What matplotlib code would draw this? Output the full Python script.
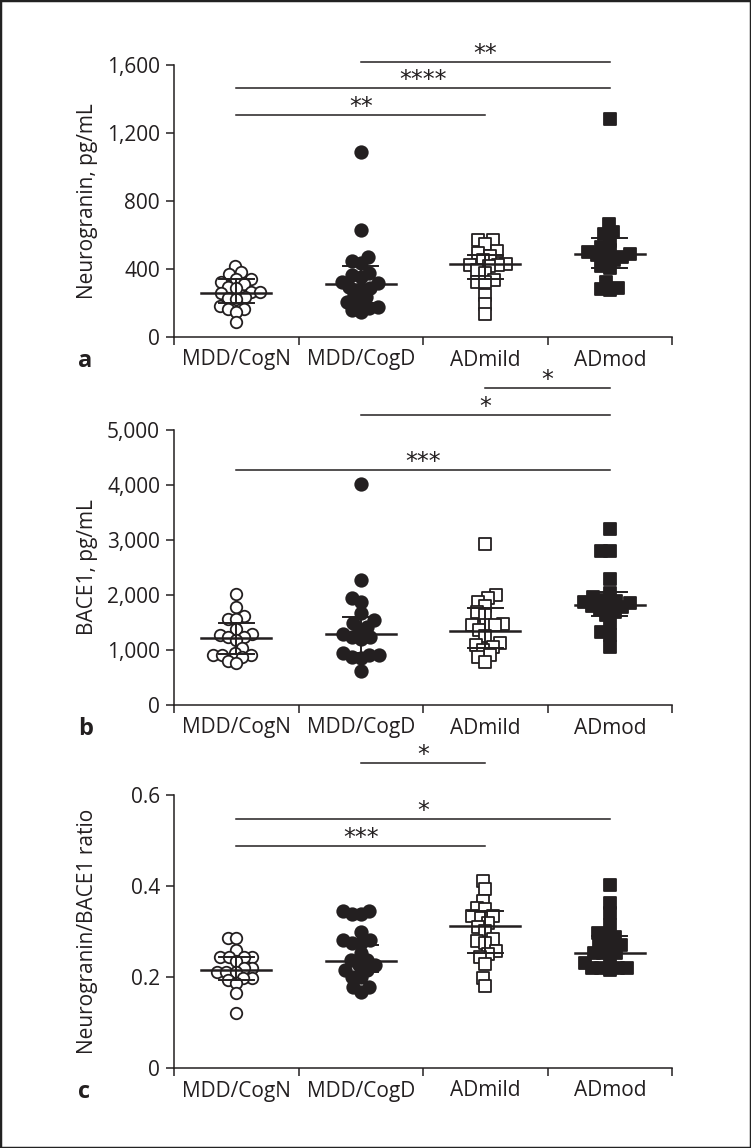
#!/usr/bin/env python3
"""
Three stacked scatter (dot) plots: Neurogranin, BACE1 and their ratio
across four diagnostic groups, median line with interquartile bars,
plus significance brackets. Saved to out.png (751x1148).
"""

import numpy as np
import matplotlib

matplotlib.use("Agg")
import matplotlib.pyplot as plt
from matplotlib.patches import Rectangle

plt.rcParams["font.family"] = ["Open Sans", "DejaVu Sans"]

groups = ["MDD/CogN", "MDD/CogD", "ADmild", "ADmod"]

# Panel a: Neurogranin, pg/mL
a_cogn = [418, 382, 371, 341, 341, 324, 310, 294, 288, 265, 265, 259, 235, 229, 224, 182, 165, 165, 147, 88]
a_cogd = [1088, 629, 470, 445, 435, 376, 365, 353, 324, 320, 294, 288, 282, 247, 235, 206, 200, 176, 171, 159, 147]
a_mild = [571, 571, 547, 506, 494, 476, 453, 430, 424, 424, 420, 394, 376, 335, 324, 324, 247, 194, 135]
a_mod = [1282, 665, 618, 606, 565, 529, 510, 500, 490, 482, 470, 465, 453, 418, 406, 324, 288, 282, 276]
a_median = [261, 312, 429, 488]
a_low = [200, 200, 341, 406]
a_high = [341, 418, 482, 580]
a_ticks = [0, 400, 800, 1200, 1600]
a_sig = [(1, 3, 1618, "**"), (0, 3, 1465, "****"), (0, 2, 1306, "**")]

# Panel b: BACE1, pg/mL
b_cogn = [2018, 1782, 1618, 1564, 1564, 1382, 1291, 1270, 1236, 1236, 1182, 1036, 945, 909, 909, 909, 873, 800, 764]
b_cogd = [4020, 2270, 1950, 1880, 1670, 1545, 1490, 1420, 1364, 1290, 1236, 1236, 1200, 945, 909, 909, 880, 850, 618]
b_mild = [2927, 2000, 1945, 1873, 1800, 1691, 1636, 1473, 1455, 1455, 1455, 1364, 1255, 1127, 1091, 1055, 1000, 909, 873, 782]
b_mod = [3200, 2800, 2800, 2290, 2036, 1960, 1910, 1900, 1870, 1850, 1820, 1800, 1780, 1750, 1700, 1640, 1490, 1327, 1273, 1055]
b_median = [1220, 1300, 1340, 1820]
b_low = [930, 940, 1040, 1620]
b_high = [1490, 1600, 1760, 2050]
b_ticks = [0, 1000, 2000, 3000, 4000, 5000]
b_sig = [(2, 3, 5764, "*"), (1, 3, 5273, "*"), (0, 3, 4273, "***")]

# Panel c: Neurogranin/BACE1 ratio
c_cogn = [0.286, 0.286, 0.259, 0.244, 0.244, 0.244, 0.244, 0.236, 0.220, 0.220, 0.211, 0.211, 0.211, 0.198, 0.198, 0.193, 0.187, 0.165, 0.121]
c_cogd = [0.345, 0.345, 0.338, 0.338, 0.299, 0.281, 0.281, 0.275, 0.275, 0.253, 0.237, 0.237, 0.226, 0.226, 0.215, 0.215, 0.200, 0.200, 0.178, 0.178, 0.167]
c_mild = [0.411, 0.393, 0.367, 0.352, 0.349, 0.334, 0.334, 0.330, 0.319, 0.310, 0.301, 0.284, 0.279, 0.275, 0.257, 0.251, 0.244, 0.229, 0.198, 0.180]
c_mod = [0.402, 0.363, 0.341, 0.314, 0.297, 0.288, 0.288, 0.270, 0.270, 0.270, 0.253, 0.253, 0.253, 0.240, 0.230, 0.220, 0.220, 0.220, 0.220, 0.215]
c_median = [0.215, 0.235, 0.312, 0.253]
c_low = [0.193, 0.210, 0.253, 0.222]
c_high = [0.244, 0.270, 0.345, 0.290]
c_ticks = [0, 0.2, 0.4, 0.6]
c_sig = [(1, 2, 0.670, "*"), (0, 3, 0.547, "*"), (0, 2, 0.488, "***")]

INK = "#231f20"
W, H = 751, 1148
LEFT, RIGHT = 174, 672          # x-axis extent in px
GROUP_PX = (RIGHT - LEFT) / 4   # px per group slot

# marker per group: (marker, filled, size_px)
STYLES = [("o", False, 11.5), ("o", True, 12.5), ("s", False, 11.5), ("s", True, 12.0)]


def swarm(vals_px, d):
    """Greedy beeswarm: x offsets (px) so markers are at least d apart."""
    vals_px = np.asarray(vals_px, float)
    xs = np.zeros(len(vals_px))
    placed = []
    for i in np.argsort(vals_px):
        y = vals_px[i]
        cands = [0.0]
        for px, py in placed:
            dy = abs(y - py)
            if dy < d:
                dx = np.sqrt(d * d - dy * dy)
                cands += [px - dx, px + dx]
        cands.sort(key=abs)
        x = cands[-1]
        for c in cands:
            if all((c - px) ** 2 + (y - py) ** 2 >= d * d - 1e-6 for px, py in placed):
                x = c
                break
        xs[i] = x
        placed.append((x, y))
    return xs


def panel(bottom_px, px_per_unit, ylim_top, series, med, lo, hi, ticks, tickfmt,
          ylabel, sig, letter):
    height_px = px_per_unit * ylim_top
    ax = fig.add_axes([LEFT / W, (H - bottom_px) / H, (RIGHT - LEFT) / W, height_px / H])
    ax.patch.set_visible(False)
    ax.set_xlim(-0.5, 3.5)
    ax.set_ylim(0, ylim_top)

    for gi, vals in enumerate(series):
        marker, filled, size = STYLES[gi]
        xoff = swarm(np.asarray(vals) * px_per_unit, size * 0.74) / GROUP_PX
        ms = size * 72 / 100
        ax.scatter(gi + xoff, vals, s=ms ** 2, marker=marker,
                   facecolors=INK if filled else "white", edgecolors=INK,
                   linewidths=1.3, zorder=3, clip_on=False)
        # median line and interquartile bars
        ax.plot([gi - 0.28, gi + 0.28], [med[gi]] * 2, color=INK, lw=1.8, zorder=4)
        ax.plot([gi - 0.14, gi + 0.14], [lo[gi]] * 2, color=INK, lw=1.4, zorder=4)
        ax.plot([gi - 0.14, gi + 0.14], [hi[gi]] * 2, color=INK, lw=1.4, zorder=4)
        ax.plot([gi, gi], [lo[gi], hi[gi]], color=INK, lw=1.4, zorder=4)

    for g0, g1, y, stars in sig:
        ax.plot([g0, g1], [y, y], color=INK, lw=1.1, clip_on=False)
        ax.annotate(stars, ((g0 + g1) / 2, y), xytext=(0, -3), textcoords="offset points",
                    ha="center", va="bottom", fontsize=17, color=INK,
                    family="DejaVu Sans", annotation_clip=False)

    for s in ("top", "right"):
        ax.spines[s].set_visible(False)
    for s in ("left", "bottom"):
        ax.spines[s].set_color(INK)
        ax.spines[s].set_linewidth(1.1)
    ax.spines["left"].set_bounds(ticks[0], ticks[-1])

    ax.set_yticks(ticks)
    ax.set_yticklabels([tickfmt(t) for t in ticks])
    ax.tick_params(axis="y", length=6, width=1.1, color=INK, labelsize=15,
                   labelcolor=INK, pad=4)
    ax.set_xticks([-0.5, 0.5, 1.5, 2.5, 3.5])
    ax.set_xticklabels([])
    ax.tick_params(axis="x", which="major", length=6, width=1.1, color=INK)
    ax.set_xticks(range(4), minor=True)
    ax.set_xticklabels(groups, minor=True)
    ax.tick_params(axis="x", which="minor", length=0, labelsize=15, labelcolor=INK, pad=9)

    ax.set_ylabel(ylabel, fontsize=15, color=INK)
    ax.yaxis.set_label_coords(-0.152, (ticks[0] + ticks[-1]) / 2 / ylim_top)

    fig.text(78 / W, (H - bottom_px - 30) / H, letter, fontsize=17, fontweight="bold",
             color=INK, ha="left", va="baseline")
    return ax


fig = plt.figure(figsize=(W / 100, H / 100), dpi=100)
fig.patches.append(Rectangle((0, 0), 1, 1, transform=fig.transFigure, fill=False,
                             edgecolor="#222222", linewidth=2.5))

panel(337, 0.17, 1750, [a_cogn, a_cogd, a_mild, a_mod], a_median, a_low, a_high,
      a_ticks, lambda t: f"{t:,.0f}", "Neurogranin, pg/mL", a_sig, "a")
panel(705, 0.055, 6200, [b_cogn, b_cogd, b_mild, b_mod], b_median, b_low, b_high,
      b_ticks, lambda t: f"{t:,.0f}", "BACE1, pg/mL", b_sig, "b")
panel(1068, 455, 0.7, [c_cogn, c_cogd, c_mild, c_mod], c_median, c_low, c_high,
      c_ticks, lambda t: "0" if t == 0 else f"{t:.1f}", "Neurogranin/BACE1 ratio", c_sig, "c")

fig.savefig("out.png", dpi=100)
